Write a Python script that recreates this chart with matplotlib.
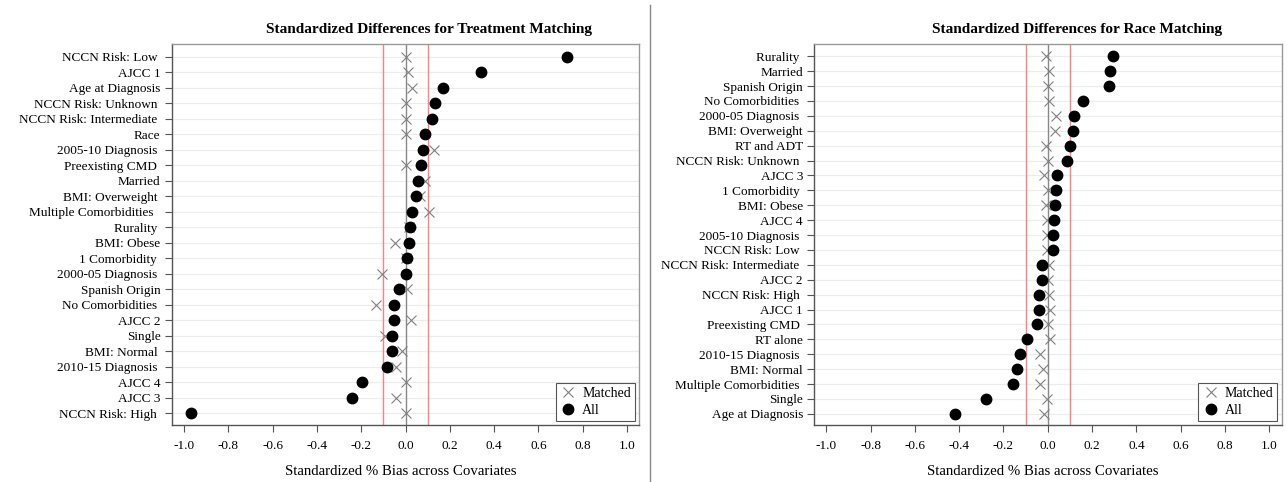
import matplotlib
matplotlib.use("Agg")
import matplotlib.pyplot as plt
from matplotlib.lines import Line2D

plt.rcParams['font.family'] = ['Liberation Serif', 'DejaVu Serif']

# ---- Data: Treatment Matching (top to bottom) ----
treat_labels = ["NCCN Risk: Low ", "AJCC 1", "Age at Diagnosis", "NCCN Risk: Unknown ",
                "NCCN Risk: Intermediate ", "Race", "2005-10 Diagnosis ", "Preexisting CMD ",
                "Married", "BMI: Overweight ", "Multiple Comorbidities  ", "Rurality ",
                "BMI: Obese", "1 Comorbidity ", "2000-05 Diagnosis ", "Spanish Origin",
                "No Comorbidities ", "AJCC 2", "Single", "BMI: Normal ",
                "2010-15 Diagnosis ", "AJCC 4", "AJCC 3", "NCCN Risk: High "]
treat_all = [0.73, 0.34, 0.167, 0.132, 0.12, 0.09, 0.08, 0.068, 0.057, 0.047, 0.03, 0.021,
             0.015, 0.009, 0.001, -0.029, -0.05, -0.053, -0.06, -0.063, -0.083, -0.197,
             -0.242, -0.968]
treat_matched = [0.0, 0.012, 0.03, 0.0, 0.0, 0.0, 0.13, 0.0, 0.087, 0.065, 0.104, 0.015,
                 -0.048, 0.0, -0.104, 0.005, -0.135, 0.023, -0.093, -0.014, -0.041, 0.0,
                 -0.041, 0.0]

# ---- Data: Race Matching (top to bottom) ----
race_labels = ["Rurality ", "Married", "Spanish Origin", "No Comorbidities ", "2000-05 Diagnosis ",
               "BMI: Overweight", "RT and ADT", "NCCN Risk: Unknown ", "AJCC 3", "1 Comorbidity ",
               "BMI: Obese", "AJCC 4", "2005-10 Diagnosis ", "NCCN Risk: Low ",
               "NCCN Risk: Intermediate ", "AJCC 2", "NCCN Risk: High ", "AJCC 1",
               "Preexisting CMD ", "RT alone", "2010-15 Diagnosis ", "BMI: Normal",
               "Multiple Comorbidities ", "Single", "Age at Diagnosis"]
race_all = [0.293, 0.28, 0.278, 0.158, 0.117, 0.114, 0.098, 0.086, 0.043, 0.037, 0.033,
            0.028, 0.025, 0.022, -0.026, -0.027, -0.038, -0.041, -0.05, -0.095, -0.126,
            -0.14, -0.158, -0.278, -0.419]
race_matched = [-0.006, 0.006, 0.0, 0.007, 0.037, 0.034, -0.008, 0.001, -0.017, 0.0, -0.008,
                -0.002, -0.002, -0.003, 0.006, 0.003, 0.004, 0.01, 0.0, 0.01, -0.035, -0.02,
                -0.033, -0.003, -0.015]

xticks = [-1.0, -0.8, -0.6, -0.4, -0.2, 0.0, 0.2, 0.4, 0.6, 0.8, 1.0]
titles = ["Standardized Differences for Treatment Matching",
          "Standardized Differences for Race Matching"]
xlabel = "Standardized % Bias across Covariates"

W, H = 1287, 482
fig = plt.figure(figsize=(W / 100, H / 100), dpi=100)

panels = [
    (treat_labels, treat_all, treat_matched, 171.7, 429),
    (race_labels, race_all, race_matched, 814.0, 1077),
]

for i, (labels, vall, vmat, left_px, title_x) in enumerate(panels):
    n = len(labels)
    width_px = 467.6
    ax = fig.add_axes([left_px / W, 1 - 425 / H, width_px / W, (425 - 44.3) / H])
    ys = list(range(n))
    for y in ys:
        ax.axhline(y, color='#ececec', lw=0.8, zorder=0)
    ax.axvline(0, color='#888888', lw=1.0, zorder=1)
    ax.axvline(-0.1, color='#ff8080', lw=1.0, zorder=1)
    ax.axvline(0.1, color='#ff8080', lw=1.0, zorder=1)
    ax.plot(vmat, ys, linestyle='none', marker='x', markersize=7, markeredgewidth=0.8,
            color='#808080', zorder=2, label='Matched')
    ax.plot(vall, ys, linestyle='none', marker='o', markersize=7.5, color='black',
            zorder=3, label='All')
    ax.set_ylim(n - 1 + 0.75, -0.8)
    ax.set_xlim(-1.055, 1.055)
    ax.set_yticks(ys)
    ax.set_yticklabels(labels, fontsize=9.5)
    ax.set_xticks(xticks)
    ax.set_xticklabels([f"{t:.1f}" for t in xticks], fontsize=9.5)
    ax.tick_params(axis='both', direction='out', length=5, width=0.8, color='#555555',
                   pad=3)
    ax.tick_params(axis='x', pad=6)
    for s in ax.spines.values():
        s.set_color('#999999')
        s.set_linewidth(1.0)
    ax.spines['left'].set_color('#555555')
    ax.spines['bottom'].set_color('#555555')
    ax.set_xlabel(xlabel, fontsize=10.7)
    ax.xaxis.set_label_coords(0.49, -0.105)
    handles = [Line2D([], [], linestyle='none', marker='x', markersize=7,
                      markeredgewidth=0.8, color='#808080'),
               Line2D([], [], linestyle='none', marker='o', markersize=7.5, color='black')]
    leg = ax.legend(handles, ['Matched', 'All'], loc='lower right', fontsize=10,
                    frameon=True, fancybox=False, edgecolor='#555555', framealpha=1,
                    borderpad=0.3, handletextpad=0.4, handlelength=1.2,
                    labelspacing=0.25, borderaxespad=0.3)
    leg.get_frame().set_linewidth(0.8)
    fig.text(title_x / W, 1 - 29 / H, titles[i], ha='center', va='center',
             fontsize=11, fontweight='bold')

# divider between panels
fig.add_artist(Line2D([650 / W, 650 / W], [0, 1 - 5 / H], color='#888888', lw=1.0,
                      transform=fig.transFigure))

fig.savefig("out.png", dpi=100)
